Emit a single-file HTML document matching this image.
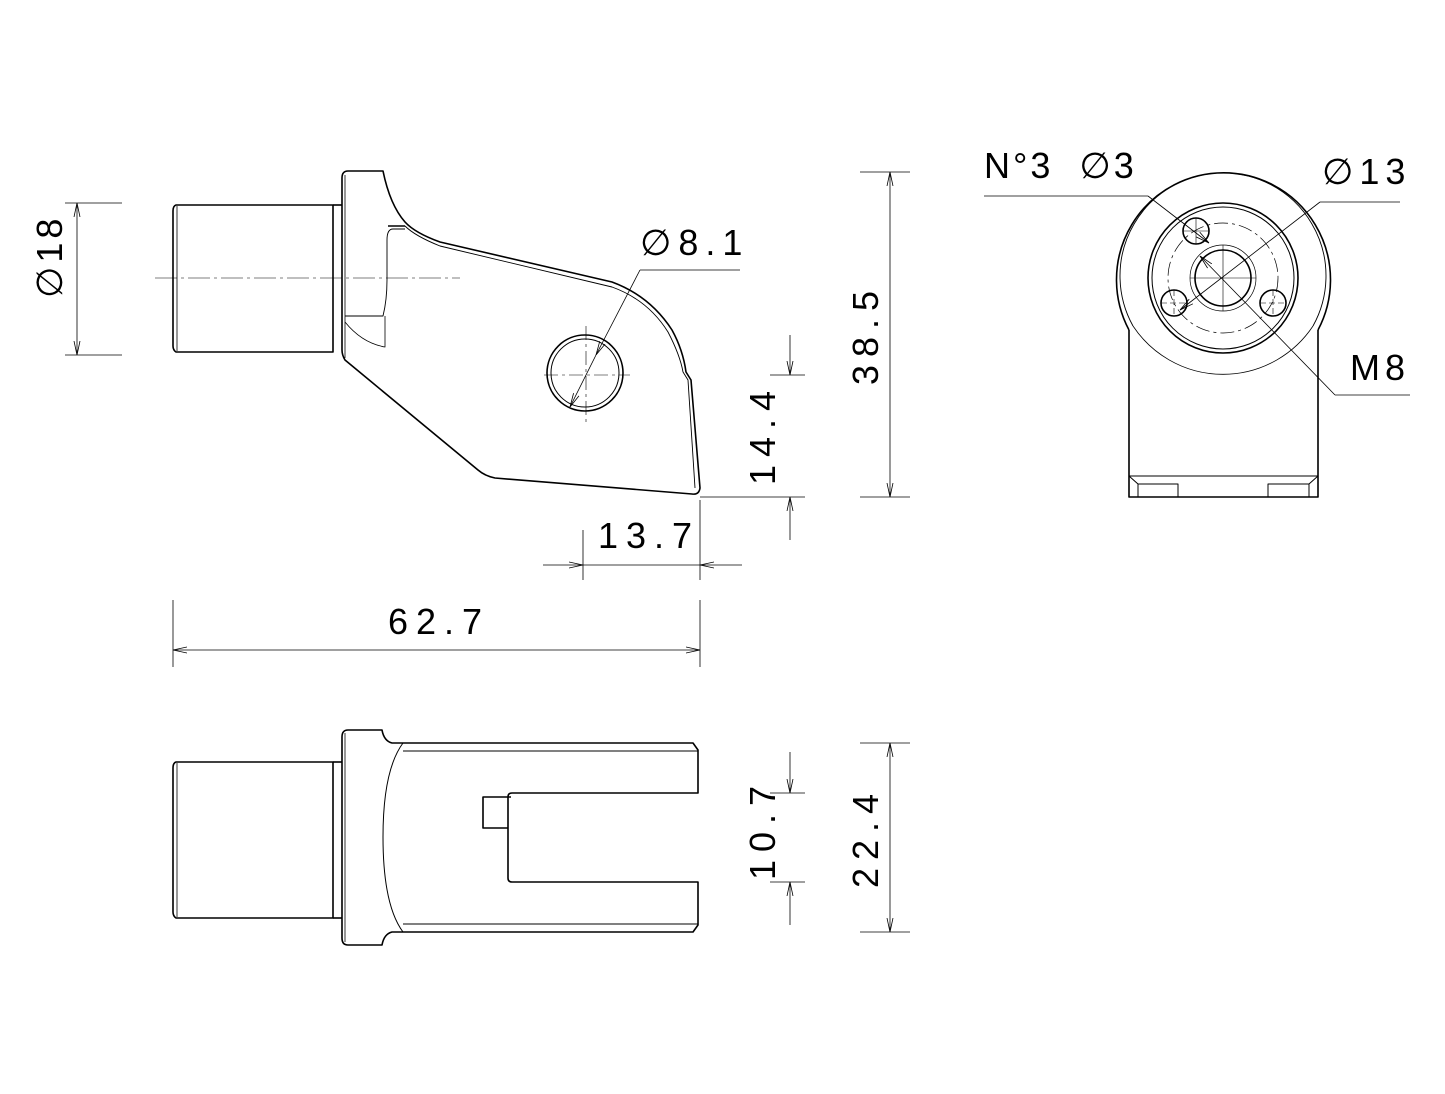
<!DOCTYPE html>
<html><head><meta charset="utf-8"><style>
html,body{margin:0;padding:0;background:#fff;}
svg{display:block;}
text{font-family:"Liberation Sans",sans-serif;fill:#000;}
</style></head><body>
<svg width="1445" height="1094" viewBox="0 0 1445 1094" xmlns="http://www.w3.org/2000/svg">
<defs>
<marker id="a" markerWidth="14" markerHeight="8" refX="14" refY="4" orient="auto-start-reverse" markerUnits="userSpaceOnUse">
<path d="M0,1 L14,4 L0,7" fill="none" stroke="#000" stroke-width="0.8"/></marker>
</defs>
<g fill="none" stroke="#000" stroke-width="1.6" stroke-linejoin="round">
<!-- TOP VIEW -->
<path d="M176,205 L333,205 L333,352 L176,352 Q173,350 173,346 L173,211 Q173,206 176,205Z"/>
<line x1="177" y1="206" x2="177" y2="351" stroke-width="0.8"/>
<path d="M342,178 Q342,171 348,171 L383,171 Q390,205 405,222 Q415,233 440,242 L612,282 Q650,296 672,330 Q683,350 686,372 L691,380 L700,488 Q699,495 692,494 L495,478 Q485,476 478,470 L345,360 Q342,355 342,350 Z"/>
<path d="M388,226 L405,226"/>
<line x1="345" y1="175" x2="345" y2="358" stroke-width="0.8"/>
<line x1="333" y1="205" x2="342" y2="205" />
<path d="M405,226 Q415,236 440,246 L612,287 Q648,300 668,332 Q680,355 683,372 L688,380 L695,488" stroke-width="0.9"/>
<path d="M345,316 L383,316 Q387,300 387,280 L387,240 Q387,229 393,229 L405,229" stroke-width="0.9"/>
<path d="M345,322 Q362,343 385,347 L385,316" stroke-width="0.8"/>
<circle cx="585" cy="373" r="38"/>
<circle cx="585" cy="373" r="34" stroke-width="1"/>
<g stroke-width="0.6"><line x1="155" y1="278" x2="460" y2="278" stroke-dasharray="22,4,3,4"/>
<line x1="544" y1="375" x2="630" y2="375" stroke-dasharray="14,4,3,4"/>
<line x1="586" y1="326" x2="586" y2="425" stroke-dasharray="14,4,3,4"/></g>
<g stroke-width="0.8"><line x1="740" y1="270" x2="640" y2="270"/><line x1="640" y1="270" x2="596" y2="355" marker-end="url(#a)"/><line x1="596" y1="355" x2="570" y2="407" marker-end="url(#a)"/></g>
<g stroke-width="0.8">
<line x1="65" y1="203" x2="122" y2="203"/><line x1="65" y1="355" x2="122" y2="355"/>
<line x1="77" y1="203" x2="77" y2="355" marker-start="url(#a)" marker-end="url(#a)"/>
<line x1="860" y1="172" x2="910" y2="172"/><line x1="860" y1="497" x2="910" y2="497"/>
<line x1="890" y1="172" x2="890" y2="497" marker-start="url(#a)" marker-end="url(#a)"/>
<line x1="770" y1="375" x2="805" y2="375"/><line x1="700" y1="497" x2="805" y2="497"/>
<line x1="790" y1="335" x2="790" y2="375" marker-end="url(#a)"/><line x1="790" y1="497" x2="790" y2="540" marker-start="url(#a)"/>
<line x1="583" y1="530" x2="583" y2="580"/><line x1="700" y1="500" x2="700" y2="580"/>
<line x1="543" y1="565" x2="583" y2="565" marker-end="url(#a)"/><line x1="700" y1="565" x2="742" y2="565" marker-start="url(#a)"/>
<line x1="583" y1="565" x2="700" y2="565"/>
<line x1="173" y1="600" x2="173" y2="667"/><line x1="700" y1="600" x2="700" y2="667"/>
<line x1="173" y1="650" x2="700" y2="650" marker-start="url(#a)" marker-end="url(#a)"/>
</g>
<!-- BOTTOM VIEW -->
<path d="M176,762 L333,762 L333,918 L176,918 Q173,916 173,912 L173,768 Q173,763 176,762Z"/>
<line x1="177" y1="763" x2="177" y2="917" stroke-width="0.8"/>
<path d="M342,737 Q342,730 348,730 L382,730 Q384,741 392,743 L693,743 L698,750 L698,793 L512,793 Q508,793 508,797 L508,878 Q508,882 512,882 L698,882 L698,925 L693,932 L392,932 Q384,934 382,945 L348,945 Q342,945 342,938 Z"/>
<line x1="333" y1="762" x2="342" y2="762"/><line x1="333" y1="918" x2="342" y2="918"/>
<line x1="345" y1="733" x2="345" y2="942" stroke-width="0.8"/>
<line x1="403" y1="751" x2="698" y2="751" stroke-width="1"/>
<line x1="403" y1="924" x2="698" y2="924" stroke-width="1"/>
<path d="M403,743 Q383,770 383,837 Q383,905 403,932" stroke-width="1"/>
<path d="M511,797 L483,797 L483,828 L508,828"/>
<g stroke-width="0.8">
<line x1="770" y1="793" x2="805" y2="793"/><line x1="770" y1="882" x2="805" y2="882"/>
<line x1="790" y1="752" x2="790" y2="793" marker-end="url(#a)"/><line x1="790" y1="882" x2="790" y2="925" marker-start="url(#a)"/>
<line x1="860" y1="743" x2="910" y2="743"/><line x1="860" y1="932" x2="910" y2="932"/>
<line x1="890" y1="743" x2="890" y2="932" marker-start="url(#a)" marker-end="url(#a)"/>
</g>
<!-- RIGHT VIEW -->
<path d="M1129,330 A107,107 0 1 1 1318,330" />
<path d="M1133,326 A103,103 0 1 1 1313,326" stroke-width="0.9"/>
<path d="M1129,330 L1129,497 L1318,497 L1318,330"/>
<path d="M1133,326 A108,108 0 0 0 1313,326" stroke-width="0.8"/>
<circle cx="1223" cy="278" r="75"/>
<circle cx="1223" cy="278" r="71" stroke-width="1"/>
<circle cx="1223" cy="278" r="55" stroke-width="0.7" stroke-dasharray="14,4,3,4"/>
<circle cx="1223" cy="278" r="28"/>
<circle cx="1223" cy="278" r="33" stroke-width="0.7"/>
<circle cx="1196" cy="231" r="13"/><circle cx="1174" cy="303" r="13"/><circle cx="1273" cy="303" r="13"/>
<g stroke-width="0.6">
<line x1="1183" y1="231" x2="1209" y2="231"/><line x1="1196" y1="218" x2="1196" y2="244"/>
<line x1="1161" y1="303" x2="1187" y2="303" stroke-dasharray="6,3"/><line x1="1174" y1="290" x2="1174" y2="316" stroke-dasharray="6,3"/>
<line x1="1260" y1="303" x2="1286" y2="303" stroke-dasharray="6,3"/><line x1="1273" y1="290" x2="1273" y2="316" stroke-dasharray="6,3"/>
<line x1="1190" y1="278" x2="1256" y2="278"/><line x1="1223" y1="245" x2="1223" y2="311"/>
</g>
<g stroke-width="0.8">
<line x1="984" y1="196" x2="1148" y2="196"/><line x1="1148" y1="196" x2="1209" y2="243" marker-end="url(#a)"/>
<line x1="1400" y1="202" x2="1320" y2="202"/><line x1="1320" y1="202" x2="1180" y2="310" marker-end="url(#a)"/>
<line x1="1410" y1="395" x2="1335" y2="395"/><line x1="1335" y1="395" x2="1200" y2="256" marker-end="url(#a)"/>
</g>
<path d="M1129,476 L1318,476 M1129,476 L1138,484 L1178,484 L1178,497 M1318,476 L1309,484 L1268,484 L1268,497 M1138,484 L1138,497 M1309,484 L1309,497" stroke-width="1"/>
</g>
<g font-size="36">
<text x="640" y="255" letter-spacing="7">&#8709;8.1</text>
<text x="984" y="178" letter-spacing="3" xml:space="preserve">N°3  &#8709;3</text>
<text x="1322" y="184" letter-spacing="6">&#8709;13</text>
<text x="1350" y="380" letter-spacing="5">M8</text>
<text x="598" y="548" letter-spacing="8">13.7</text>
<text x="388" y="634" letter-spacing="8">62.7</text>
<text transform="translate(62,298) rotate(-90)" letter-spacing="4">&#8709;18</text>
<text transform="translate(878,385) rotate(-90)" letter-spacing="8">38.5</text>
<text transform="translate(775,485) rotate(-90)" letter-spacing="8">14.4</text>
<text transform="translate(775,880) rotate(-90)" letter-spacing="8">10.7</text>
<text transform="translate(878,888) rotate(-90)" letter-spacing="8">22.4</text>
</g>
</svg>
</body></html>
